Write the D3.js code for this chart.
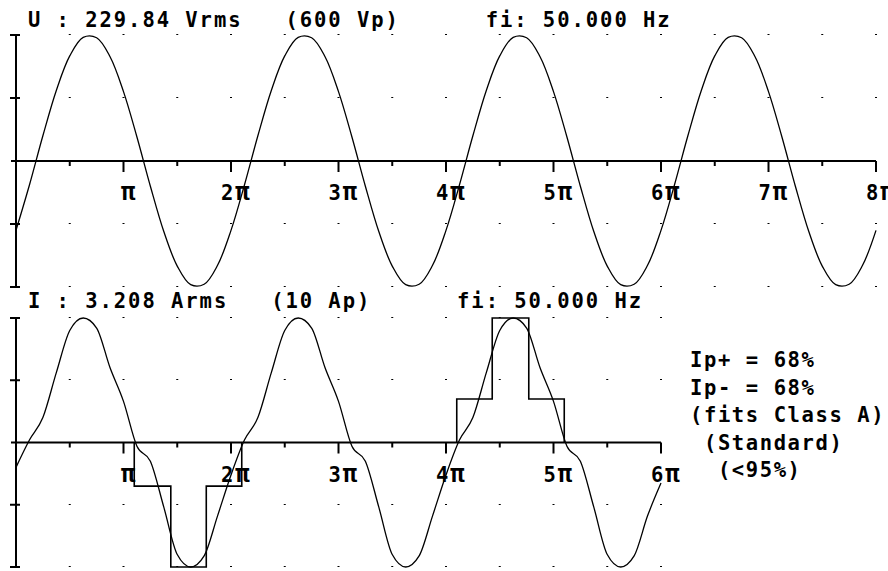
<!DOCTYPE html>
<html>
<head>
<meta charset="utf-8">
<script src="https://cdn.jsdelivr.net/npm/d3@7"></script>
<style>
body { margin: 0; background: #fff; }
text { font-family: "DejaVu Sans Mono", monospace; font-weight: bold; font-size: 20.5px; letter-spacing: 1.96px; fill: #000; white-space: pre; }
.notes text { letter-spacing: 1.6px; }
.pi { font-size: 24px; letter-spacing: 0; }
</style>
</head>
<body>
<script>
// samples are taken every pi/8 of the phase angle
var step = 1 / 8;

// U in volts, 0 .. 8pi
var voltage = [
  -179, -62, 65, 182, 271, 319, 318, 269, 179, 62, -65, -182, -271, -319, -318, -269,
  -179, -62, 65, 182, 271, 319, 318, 269, 179, 62, -65, -182, -271, -319, -318, -269,
  -179, -62, 65, 182, 271, 319, 318, 269, 179, 62, -65, -182, -271, -319, -318, -269,
  -179, -62, 65, 182, 271, 319, 318, 269, 179, 62, -65, -182, -271, -319, -318, -269,
  -179
];

// I in amps, 0 .. 6pi
var current = [
  -0.92, 0.09, 0.92, 2.58, 4.14, 4.6, 4.23, 2.76, 1.52, -0.14, -0.69, -2.39, -4.14, -4.6, -4.19, -2.71,
  -1.2, 0.09, 0.92, 2.58, 4.14, 4.6, 4.23, 2.76, 1.52, -0.14, -0.69, -2.39, -4.14, -4.6, -4.19, -2.71,
  -1.2, 0.09, 0.92, 2.58, 4.14, 4.6, 4.23, 2.76, 1.52, -0.14, -0.69, -2.39, -4.14, -4.6, -4.19, -2.71,
  -1.5
];

// class A envelope (phase in pi, current in amps)
var envNegT = [1.10, 1.10, 1.44, 1.77, 2.10];
var envNegI = [0, -1.61, -4.6, -1.61, 0];
var envPosT = [4.10, 4.10, 4.43, 4.77, 5.10];
var envPosI = [0, 1.61, 4.6, 1.61, 0];

var uPeak = 325, iPeak = 4.6;
var piLabels = ["π", "2π", "3π", "4π", "5π", "6π", "7π", "8π"];
var uTitle = "U : 229.84 Vrms   (600 Vp)      fi: 50.000 Hz";
var iTitle = "I : 3.208 Arms   (10 Ap)      fi: 50.000 Hz";
var notes = ["Ip+ = 68%", "Ip- = 68%", "(fits Class A)", " (Standard)", "  (<95%)"];

var svg = d3.select("body").append("svg").attr("width", 888).attr("height", 571);
svg.append("rect").attr("width", 888).attr("height", 571).attr("fill", "#fff");

function panel(o) {
  var x = d3.scaleLinear().domain([0, o.nPi]).range([16, 16 + o.nPi * 107.5]);
  var y = d3.scaleLinear().domain([-o.peak, o.peak]).range([o.bottom, o.top]);
  var g = svg.append("g");
  var halfs = d3.range(1, 2 * o.nPi + 1).map(function(k) { return k / 2; });
  var levels = [-o.peak, -o.peak / 2, o.peak / 2, o.peak];

  // dotted grid
  halfs.forEach(function(t) {
    levels.forEach(function(v) {
      g.append("rect").attr("x", x(t) - 1).attr("y", Math.round(y(v)) - 1)
        .attr("width", 2).attr("height", 1).attr("fill", "#000");
    });
  });

  var xa = g.append("g").attr("transform", "translate(0," + y(0) + ")")
    .call(d3.axisBottom(x).tickValues(halfs).tickSize(11).tickSizeOuter(0).offset(0)
      .tickFormat(function(t) { return t % 1 ? "" : o.labels[t - 1]; }));
  xa.select(".domain").attr("d", "M" + (x(0) - 5) + ",0H" + x(o.nPi)).attr("stroke-width", 2);
  xa.selectAll(".tick line").attr("y2", function(t) { return t % 1 ? 5 : 11; }).attr("stroke-width", 2);
  xa.selectAll(".tick text").attr("y", 39).attr("dy", null).attr("text-anchor", "start")
    .attr("x", function(t) { return t === 1 ? -2.5 : -10; })
    .each(function() {
      var s = d3.select(this), lbl = s.text();
      if (!lbl) return;
      s.text(lbl.slice(0, -1));
      s.append("tspan").attr("class", "pi").text("π");
    });

  var ya = g.append("g").attr("transform", "translate(" + x(0) + ",0)")
    .call(d3.axisLeft(y).tickValues(levels).tickSize(6).tickSizeOuter(0).offset(0).tickFormat(""));
  ya.select(".domain").attr("stroke-width", 2);
  ya.selectAll(".tick line").attr("x1", 4).attr("stroke-width", 2);

  var line = d3.line()
    .x(function(d, i) { return x(i * step); })
    .y(function(d) { return y(d); })
    .curve(o.curve);
  g.append("path").attr("d", line(o.values)).attr("fill", "none").attr("stroke", "#000").attr("stroke-width", 1.3);

  (o.envelopes || []).forEach(function(e) {
    var env = d3.line().x(function(d) { return x(d[0]); }).y(function(d) { return y(d[1]); })
      .curve(d3.curveStepAfter);
    g.append("path").attr("d", env(e)).attr("fill", "none").attr("stroke", "#000").attr("stroke-width", 1.6);
  });

  g.append("text").attr("x", 28).attr("y", o.titleY).text(o.title);
}

panel({ top: 35, bottom: 287, nPi: 8, peak: uPeak, values: voltage, labels: piLabels,
  title: uTitle, titleY: 27, curve: d3.curveCatmullRom });

panel({ top: 318, bottom: 567, nPi: 6, peak: iPeak, values: current, labels: piLabels.slice(0, 6),
  title: iTitle, titleY: 308, curve: d3.curveMonotoneX,
  envelopes: [d3.zip(envNegT, envNegI), d3.zip(envPosT, envPosI)] });

svg.append("g").attr("class", "notes").selectAll("text").data(notes).join("text")
  .attr("x", 690).attr("y", function(d, i) { return 367 + i * 27.5; })
  .text(function(d) { return d; });
</script>
</body>
</html>
